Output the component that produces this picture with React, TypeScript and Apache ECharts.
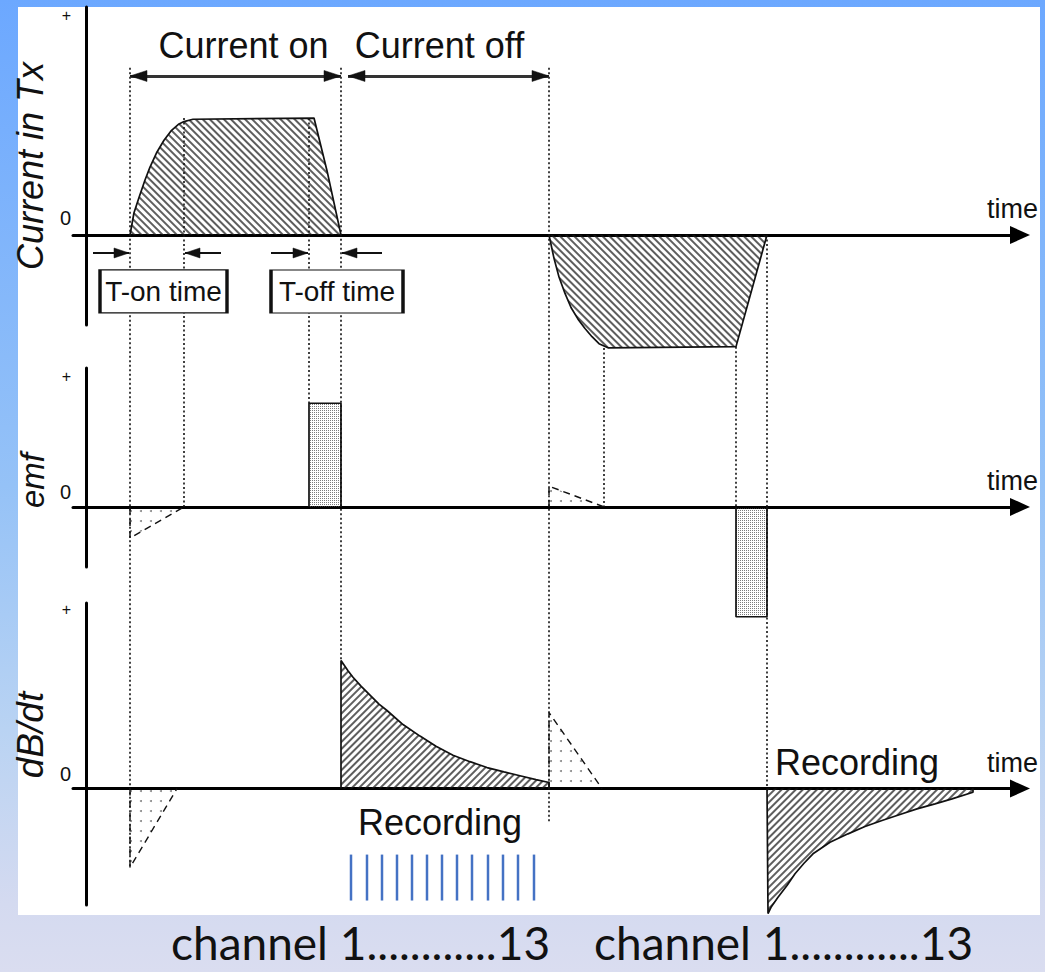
import React, { useEffect, useRef } from "react";
import * as echarts from "echarts";

// ---------------- data ----------------
// time axis in arbitrary units, 0 = the vertical axes
const timeRange = [-1.3, 93.4];
const currentRange = [-0.77, 1.95];
const emfRange = [-0.58, 1.34];
const dbdtRange = [-0.91, 1.45];

const panelNames = ["Current in Tx", "emf", "dB/dt"];
const axisTickLabels = ["0", "+"];
const timeLabel = "time";

// Current in Tx (plateau = 1)
const currentOn: number[][] = [
  [4.4, 0], [4.8, 0.19], [5.3, 0.32], [5.9, 0.47], [6.4, 0.58], [7.1, 0.71],
  [7.8, 0.81], [8.5, 0.89], [9.3, 0.95], [9.8, 0.97], [10.7, 0.99],
  [22.8, 1.0], [24.1, 0.55], [25.5, 0],
];
const currentOff: number[][] = [
  [46.3, 0], [46.8, -0.2], [47.3, -0.36], [47.9, -0.5], [48.5, -0.62],
  [49.2, -0.72], [49.9, -0.8], [50.6, -0.87], [51.3, -0.93], [52.2, -0.965],
  [65.0, -0.955], [68.1, 0],
];

// emf
const emfOffPulse: number[][] = [[22.3, 0], [22.3, 1], [25.5, 1], [25.5, 0]];
const emfOnPulse: number[][] = [[65.0, 0], [65.0, -1.06], [68.1, -1.06], [68.1, 0]];
const emfOnTransient: number[][] = [[4.4, 0], [4.4, -0.3], [9.8, 0]];
const emfOffTransient: number[][] = [[46.3, 0], [46.3, 0.2], [51.8, 0]];

// dB/dt
const dbdtOffDecay: number[][] = [
  [25.5, 0], [25.5, 1.0], [26.2, 0.92], [26.7, 0.87], [27.5, 0.8], [28.4, 0.73],
  [29.3, 0.66], [30.1, 0.61], [31.7, 0.5], [33.4, 0.41], [35.0, 0.33], [36.7, 0.26],
  [38.4, 0.21], [40.1, 0.164], [41.8, 0.13], [43.4, 0.1], [45.0, 0.07], [46.3, 0.047], [46.3, 0],
];
const dbdtOnDecay: number[][] = [
  [68.1, 0], [68.2, -0.977], [68.5, -0.928], [69.2, -0.849], [70.1, -0.758], [70.9, -0.666],
  [71.8, -0.584], [72.7, -0.51], [74.4, -0.42], [76.2, -0.354], [77.9, -0.297], [79.6, -0.25],
  [81.4, -0.203], [83.1, -0.159], [84.9, -0.12], [86.6, -0.081], [88.7, -0.029], [88.7, 0],
];
const dbdtOnTransient: number[][] = [[4.4, 0], [4.4, -0.617], [9.1, 0]];
const dbdtOffTransient: number[][] = [[46.3, 0], [46.3, 0.594], [51.6, 0]];

// recording channels (time gates)
const channelTimes = [26.5, 28.1, 29.6, 31.1, 32.6, 34.1, 35.6, 37.1, 38.6, 40.2, 41.7, 43.2, 44.8];
const channelSpan = [-0.516, -0.875];
const channelLabels = ["channel 1............13", "channel 1............13"];

// annotations
const periodArrows = [
  { name: "Current on", from: 4.4, to: 25.5, level: 1.36 },
  { name: "Current off", from: 26.2, to: 46.3, level: 1.36 },
];
const rampArrows = [
  [0.7, 4.3], [13.5, 9.9], [18.5, 22.2], [29.6, 25.6],
];
const rampArrowLevel = -0.154;
const rampBoxes = [
  { name: "T-on time", t: 7.75, v: -0.483 },
  { name: "T-off time", t: 25.1, v: -0.483 },
];
const recordingLabels = [
  { name: "Recording", t: 35.4, v: -0.266, align: "center" },
  { name: "Recording", t: 68.9, v: 0.203, align: "left" },
];

// dotted guide lines: time, [panel, value] top, [panel, value] bottom
const guides = [
  { t: 4.4, top: [0, 1.43], bottom: [2, -0.617] },
  { t: 9.8, top: [0, 1.0], bottom: [1, 0] },
  { t: 22.3, top: [0, 1.0], bottom: [1, 1] },
  { t: 25.5, top: [0, 1.43], bottom: [2, 1.0] },
  { t: 46.3, top: [0, 1.43], bottom: [2, -0.27] },
  { t: 51.8, top: [0, -0.966], bottom: [1, 0] },
  { t: 65.0, top: [0, -0.955], bottom: [1, 0] },
  { t: 68.1, top: [0, 0], bottom: [2, 0] },
];

// ---------------- styles ----------------
const INK = "#111";
const FONT = "Liberation Sans";
const bgGradient = {
  type: "linear", x: 0, y: 0, x2: 0, y2: 1,
  colorStops: [
    { offset: 0, color: "#6CA8FF" },
    { offset: 0.5, color: "#95C2F7" },
    { offset: 0.75, color: "#B9D3F3" },
    { offset: 0.93, color: "#D4DAF0" },
    { offset: 1, color: "#DADDF0" },
  ],
};
const hatchBack = { symbol: "rect", symbolSize: 1, dashArrayX: [1, 0], dashArrayY: [1.4, 2.7], rotation: Math.PI / 4, color: "#1a1a1a" };
const hatchFwd = { symbol: "rect", symbolSize: 1, dashArrayX: [1, 0], dashArrayY: [1.4, 2.6], rotation: -Math.PI / 4, color: "#1a1a1a" };
const stipple = { symbol: "rect", symbolSize: 1, dashArrayX: [1, 1], dashArrayY: [1, 1], rotation: 0, color: "#444" };
const sparseDots = { symbol: "circle", symbolSize: 1, dashArrayX: [1.6, 8], dashArrayY: [1.6, 8], rotation: 0, color: "#555" };

function areaSeries(name: string, data: number[][], idx: number, decal: any, dashed = false, extra: any = {}) {
  return {
    type: "line", name, xAxisIndex: idx, yAxisIndex: idx, data,
    showSymbol: false, symbol: "none", clip: false, silent: true, z: 3,
    lineStyle: { color: INK, width: dashed ? 1.4 : 1.7, type: dashed ? [7, 5] : "solid", decal },
    itemStyle: { color: INK, decal },
    areaStyle: { color: "rgba(255,255,255,0)", origin: 0 },
    ...extra,
  };
}

function buildOption() {
  const grids = [
    { left: 73, right: 25, top: 7, height: 318, containLabel: false, outerBoundsMode: "none" },
    { left: 73, right: 25, top: 368, height: 199, containLabel: false, outerBoundsMode: "none" },
    { left: 73, right: 25, top: 603, height: 302, containLabel: false, outerBoundsMode: "none" },
  ];
  const ranges = [currentRange, emfRange, dbdtRange];
  const labelShift = [
    { p: 16, z: 34 },
    { p: 16, z: 30 },
    { p: 12, z: 30 },
  ];
  const nameStyle = [
    { fontSize: 36, padding: [0, 0, 0, 0], gap: 18 },
    { fontSize: 33, padding: [0, 26, 0, 0], gap: 17 },
    { fontSize: 37, padding: [0, 0, 0, 38], gap: 21 },
  ];

  const xAxis = grids.map((_, i) => ({
    gridIndex: i, type: "value", min: timeRange[0], max: timeRange[1],
    axisLine: { show: true, onZero: true, symbol: ["none", "triangle"], symbolSize: [18, 20], lineStyle: { color: "#000", width: 3 } },
    axisTick: { show: false }, axisLabel: { show: false }, splitLine: { show: false },
    name: timeLabel, nameLocation: "end", nameGap: -33,
    nameTextStyle: { fontSize: 27, fontFamily: FONT, color: INK, align: "left", verticalAlign: "bottom", padding: [0, 0, 12, 0] },
  }));

  const yAxis = grids.map((_, i) => ({
    gridIndex: i, type: "value", min: ranges[i][0], max: ranges[i][1],
    axisLine: { show: true, onZero: true, lineStyle: { color: "#000", width: 3 } },
    axisTick: { show: false }, splitLine: { show: false },
    axisLabel: {
      show: true, customValues: [0, ranges[i][1]], margin: 2,
      fontSize: 20, fontFamily: FONT, color: INK,
      formatter: (v: number) => (v === 0 ? `{z|${axisTickLabels[0]}}` : `{p|${axisTickLabels[1]}}`),
      rich: {
        z: { fontSize: 20, fontFamily: FONT, color: INK, padding: [0, 0, labelShift[i].z, 0] },
        p: { fontSize: 16, fontFamily: FONT, color: INK, padding: [labelShift[i].p, 0, 0, 0] },
      },
    },
    name: panelNames[i], nameLocation: "middle", nameRotate: 90, nameGap: nameStyle[i].gap,
    nameTextStyle: { fontSize: nameStyle[i].fontSize, fontStyle: "italic", fontFamily: FONT, color: INK, padding: nameStyle[i].padding },
  }));

  const series: any[] = [
    areaSeries("Current on", currentOn, 0, hatchBack, false, {
      markLine: {
        silent: true, symbol: ["none", "none"],
        lineStyle: { color: "#333", width: 3, type: "solid" },
        label: { show: true, position: "insideMiddleTop", formatter: "{b}", fontSize: 36, fontFamily: FONT, color: INK, distance: 12 },
        data: periodArrows.map((a, k) => [
          { name: a.name, coord: [a.from, a.level], label: { padding: k === 0 ? [0, 0, 0, 16] : [0, 18, 0, 0] } },
          { coord: [a.to, a.level] },
        ]),
      },
      markPoint: {
        silent: true, symbol: "rect",
        itemStyle: { color: "#fff", borderColor: INK, borderWidth: 2 },
        label: { show: true, position: "inside", formatter: "{b}", fontSize: 28, fontFamily: FONT, color: INK },
        data: rampBoxes.map((b, k) => ({ name: b.name, coord: [b.t, b.v], symbolSize: k === 0 ? [127, 43] : [132, 43] })),
      },
    }),
    areaSeries("Current off", currentOff, 0, hatchBack, false, {
      markLine: {
        silent: true, symbol: ["none", "none"],
        lineStyle: { color: INK, width: 2, type: "solid" },
        label: { show: false },
        data: rampArrows.map((a) => [{ coord: [a[0], rampArrowLevel] }, { coord: [a[1], rampArrowLevel] }]),
      },
    }),
    areaSeries("emf off", emfOffPulse, 1, stipple),
    areaSeries("emf on", emfOnPulse, 1, stipple),
    areaSeries("emf on transient", emfOnTransient, 1, sparseDots, true),
    areaSeries("emf off transient", emfOffTransient, 1, sparseDots, true),
    areaSeries("dB/dt off", dbdtOffDecay, 2, hatchFwd, false, {
      markPoint: {
        silent: true, symbol: "rect", symbolSize: 1,
        itemStyle: { color: "rgba(0,0,0,0)" },
        label: { show: true, position: "inside", formatter: "{b}", fontSize: 36, fontFamily: FONT, color: INK },
        data: recordingLabels.map((r) => ({ name: r.name, coord: [r.t, r.v], label: { align: r.align } })),
      },
    }),
    areaSeries("dB/dt on", dbdtOnDecay, 2, hatchFwd),
    areaSeries("dB/dt on transient", dbdtOnTransient, 2, sparseDots, true),
    areaSeries("dB/dt off transient", dbdtOffTransient, 2, sparseDots, true),
    {
      type: "custom", name: "channels", xAxisIndex: 2, yAxisIndex: 2, silent: true, z: 4,
      data: channelTimes.map((t) => [t, channelSpan[0], channelSpan[1]]),
      renderItem: (_p: any, api: any) => {
        const a = api.coord([api.value(0), api.value(1)]);
        const b = api.coord([api.value(0), api.value(2)]);
        return { type: "line", shape: { x1: a[0], y1: a[1], x2: b[0], y2: b[1] }, style: { stroke: "#4472C4", lineWidth: 2.5 } };
      },
    },
  ];

  return {
    animation: false,
    backgroundColor: bgGradient,
    grid: grids,
    xAxis, yAxis, series,
  };
}

// arrow head polygon with its tip at (x, y), pointing in direction dir (+1 right, -1 left)
function arrowHead(id: string, x: number, y: number, dir: number, len: number, half: number) {
  return {
    type: "polygon", id, z: 10, silent: true,
    shape: { points: [[x, y], [x - dir * len, y - half], [x - dir * len, y + half]] },
    style: { fill: INK, stroke: INK, lineWidth: 0.5 },
  };
}

export default function App() {
  const ref = useRef<HTMLDivElement>(null);
  useEffect(() => {
    if (!ref.current) return;
    const chart = echarts.init(ref.current, null, { renderer: "svg" });
    chart.setOption(buildOption() as any);

    const px = (g: number, t: number, v: number) => chart.convertToPixel({ gridIndex: g } as any, [t, v]) as number[];
    const guideEls = guides.map((g, k) => {
      const a = px(g.top[0], g.t, g.top[1]);
      const b = px(g.bottom[0], g.t, g.bottom[1]);
      return {
        type: "line", id: "guide" + k, z: 1, silent: true,
        shape: { x1: a[0], y1: a[1], x2: b[0], y2: b[1] },
        style: { stroke: INK, lineWidth: 1.6, lineDash: [2, 2.5] },
      };
    });
    const heads: any[] = [];
    periodArrows.forEach((a, k) => {
      const p1 = px(0, a.from, a.level);
      const p2 = px(0, a.to, a.level);
      heads.push(arrowHead("pa" + k + "a", p1[0], p1[1], -1, 17, 5.5));
      heads.push(arrowHead("pa" + k + "b", p2[0], p2[1], 1, 17, 5.5));
    });
    rampArrows.forEach((a, k) => {
      const p2 = px(0, a[1], rampArrowLevel);
      heads.push(arrowHead("ra" + k, p2[0], p2[1], a[1] > a[0] ? 1 : -1, 15, 5));
    });
    chart.setOption({
      graphic: [
        { type: "rect", id: "panel", z: -1, silent: true, shape: { x: 18, y: 7, width: 1022, height: 908 }, style: { fill: "#fff" } },
        ...guideEls,
        ...heads,
        { type: "rect", id: "rightStrip", z: 100, silent: true, shape: { x: 1040, y: 0, width: 5, height: 972 }, style: { fill: bgGradient } },
        ...channelLabels.map((s, k) => ({
          type: "text", id: "ch" + k, z: 100, silent: true, x: k === 0 ? 171 : 594, y: 965,
          style: { text: s, fontSize: 46, fontFamily: "Lato", fill: INK, verticalAlign: "bottom", align: "left" },
        })),
      ],
    } as any);
    return () => chart.dispose();
  }, []);
  return <div ref={ref} style={{ position: "absolute", left: 0, top: 0, width: 1045, height: 972 }} />;
}
